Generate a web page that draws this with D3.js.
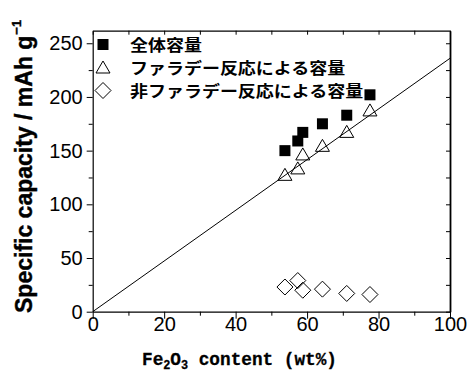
<!DOCTYPE html>
<html>
<head>
<meta charset="utf-8">
<script src="https://cdn.jsdelivr.net/npm/d3@7/dist/d3.min.js"></script>
<style>
  html, body { margin: 0; padding: 0; background: #fff; }
  svg { display: block; }
</style>
</head>
<body>
<svg id="chart" width="468" height="376"></svg>
<script>
// ---- data ----
const fe2o3Content = [53.8, 57.4, 58.8, 64.3, 71.1, 77.6];
const totalCapacity = [150, 159, 167, 175, 183, 202];
const faradaicCapacity = [127, 133, 146, 154, 167, 187];
const nonFaradaicCapacity = [23, 29, 20, 21, 17, 16];
const fitLineX = [0, 100];
const fitLineY = [0, 236];
const seriesNames = ["全体容量", "ファラデー反応による容量", "非ファラデー反応による容量"];
const xTickValues = [0, 20, 40, 60, 80, 100];
const xMinorTicks = [10, 30, 50, 70, 90];
const yTickValues = [0, 50, 100, 150, 200, 250];
const yMinorTicks = [25, 75, 125, 175, 225];

(function () {
// ---- layout ----
const svg = d3.select("#chart");
const pL = 92.7, pR = 450, pT = 30.7, pB = 311.7;
const x = d3.scaleLinear().domain([0, 100]).range([pL, pR]);
const y = d3.scaleLinear().domain([0, 261.7]).range([pB, pT]);

const tickFont = "'Liberation Sans', Arial, sans-serif";

function styleAxis(g) {
  g.selectAll("path.domain").attr("stroke", "#000").attr("stroke-width", 1.2);
  g.selectAll(".tick line").attr("stroke", "#000").attr("stroke-width", 1);
}

// bottom axis
const gB = svg.append("g").attr("transform", `translate(0,${pB})`)
  .call(d3.axisBottom(x).tickValues(xTickValues).tickSize(7).tickSizeOuter(0).tickFormat(d3.format("d")));
styleAxis(gB);
gB.selectAll("text").attr("font-family", tickFont).attr("font-size", 20).attr("fill", "#000").attr("y", 5);
svg.append("g").attr("transform", `translate(0,${pB})`)
  .call(d3.axisBottom(x).tickValues(xMinorTicks).tickSize(4).tickFormat(""))
  .call(g => { g.select(".domain").remove(); styleAxis(g); });

// left axis
const gL = svg.append("g").attr("transform", `translate(${pL},0)`)
  .call(d3.axisLeft(y).tickValues(yTickValues).tickSize(6).tickSizeOuter(0).tickFormat(d3.format("d")));
styleAxis(gL);
gL.selectAll("text").attr("font-family", tickFont).attr("font-size", 20).attr("fill", "#000").attr("x", -10);
svg.append("g").attr("transform", `translate(${pL},0)`)
  .call(d3.axisLeft(y).tickValues(yMinorTicks).tickSize(4).tickFormat(""))
  .call(g => { g.select(".domain").remove(); styleAxis(g); });

// top axis (inward ticks)
const gT = svg.append("g").attr("transform", `translate(0,${pT})`)
  .call(d3.axisTop(x).tickValues(xTickValues.concat(xMinorTicks)).tickSize(-4).tickSizeOuter(0).tickFormat(""));
styleAxis(gT);

// right axis (inward ticks)
const gR = svg.append("g").attr("transform", `translate(${pR},0)`)
  .call(d3.axisRight(y).tickValues(yTickValues.concat(yMinorTicks)).tickSize(-4).tickSizeOuter(0).tickFormat(""));
styleAxis(gR);
gR.select("path.domain").attr("stroke-width", 1.8);

// fit line
svg.append("line")
  .attr("x1", x(fitLineX[0])).attr("y1", y(fitLineY[0]))
  .attr("x2", x(fitLineX[1])).attr("y2", y(fitLineY[1]))
  .attr("stroke", "#000").attr("stroke-width", 1);

// symbols
const sq = 5.5;
const squarePath = `M${-sq},${-sq}H${sq}V${sq}H${-sq}Z`;
const triPath = "M0,-7L7,5L-7,5Z";
const diaPath = "M0,-8L8,0L0,8L-8,0Z";

const pts = (ys) => fe2o3Content.map((v, i) => [v, ys[i]]);

svg.append("g").selectAll("path").data(pts(nonFaradaicCapacity)).join("path")
  .attr("d", diaPath).attr("transform", d => `translate(${x(d[0])},${y(d[1])})`)
  .attr("fill", "none").attr("stroke", "#000").attr("stroke-width", 1);

svg.append("g").selectAll("path").data(pts(faradaicCapacity)).join("path")
  .attr("d", triPath).attr("transform", d => `translate(${x(d[0])},${y(d[1])})`)
  .attr("fill", "none").attr("stroke", "#000").attr("stroke-width", 1);

svg.append("g").selectAll("path").data(pts(totalCapacity)).join("path")
  .attr("d", squarePath).attr("transform", d => `translate(${x(d[0])},${y(d[1])})`)
  .attr("fill", "#000");

// legend
const legendRows = [44.5, 67.5, 90.5];
const legendSyms = [
  { d: squarePath, fill: "#000", stroke: "none" },
  { d: triPath, fill: "none", stroke: "#000" },
  { d: diaPath, fill: "none", stroke: "#000" }
];
const lg = svg.append("g");
seriesNames.forEach((name, i) => {
  lg.append("path").attr("d", legendSyms[i].d)
    .attr("transform", `translate(103,${legendRows[i] + (i === 1 ? 0.5 : 0)})`)
    .attr("fill", legendSyms[i].fill).attr("stroke", legendSyms[i].stroke).attr("stroke-width", 1);
  lg.append("text")
    .attr("transform", `translate(130,${legendRows[i]}) scale(1,0.86)`)
    .attr("dominant-baseline", "central")
    .attr("font-family", "'Noto Sans CJK JP', sans-serif").attr("font-weight", "bold")
    .attr("font-size", 18).attr("fill", "#000")
    .text(name);
});

// x axis title
const xt = svg.append("text").attr("x", 142).attr("y", 365)
  .attr("font-family", "'Liberation Mono', 'DejaVu Sans Mono', monospace")
  .attr("font-weight", "bold").attr("font-size", 18).attr("fill", "#000")
  .attr("stroke", "#000").attr("stroke-width", 0.3)
  .attr("textLength", 195).attr("lengthAdjust", "spacingAndGlyphs");
xt.append("tspan").text("Fe");
xt.append("tspan").attr("font-size", 12).attr("dy", 4).text("2");
xt.append("tspan").attr("dy", -4).text("O");
xt.append("tspan").attr("font-size", 12).attr("dy", 4).text("3");
xt.append("tspan").attr("dy", -4).text(" content (wt%)");

// y axis title
const yt = svg.append("text").attr("transform", "translate(32,313) rotate(-90)")
  .attr("font-family", "'Liberation Sans', Arial, sans-serif")
  .attr("font-weight", "bold").attr("font-size", 23).attr("fill", "#000")
  .attr("stroke", "#000").attr("stroke-width", 0.4);
yt.append("tspan").text("Specific capacity / mAh g");
yt.append("tspan").attr("font-size", 13).attr("dy", -11).attr("dx", 1).text("−1");
})();
</script>
</body>
</html>
